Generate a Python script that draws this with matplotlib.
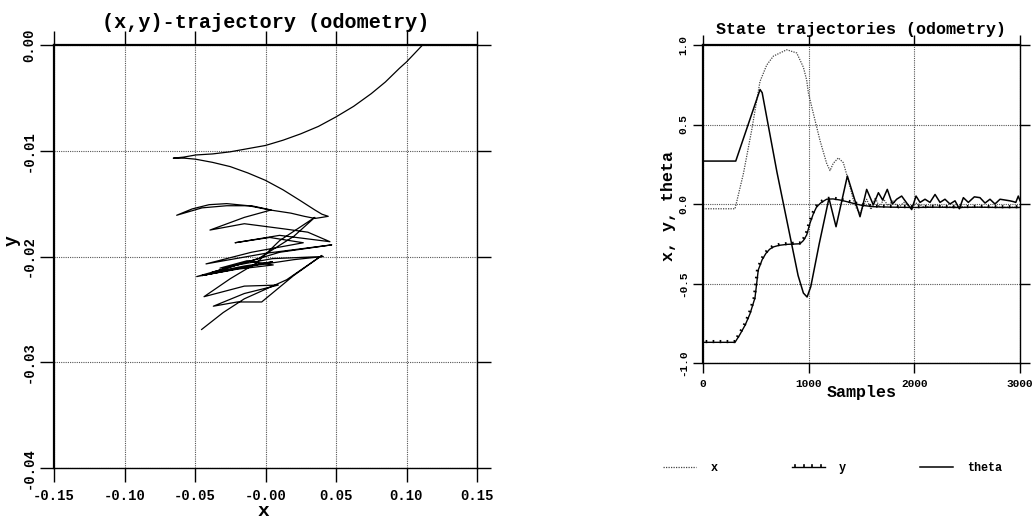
import matplotlib
matplotlib.use("Agg")
import matplotlib.pyplot as plt
from matplotlib import patheffects

plt.rcParams['font.family'] = ['Liberation Mono', 'DejaVu Sans Mono']
plt.rcParams['font.weight'] = 'bold'

# ---------------- data: (x,y) odometry trajectory ----------------
traj_x = [0.1114, 0.1050, 0.1000, 0.0950, 0.0850, 0.0750, 0.0625, 0.0500, 0.0375, 0.0250,
          0.0125, 0.0000, -0.0125, -0.0250, -0.0375, -0.0495, -0.0580, -0.0654,
          -0.0575, -0.0495, -0.0375, -0.0250, -0.0125, 0.0000, 0.0125, 0.0245, 0.0350,
          0.0400, 0.0445,
          0.0400, 0.0351, 0.0275, 0.0180, 0.0032, -0.0120, -0.0275, -0.0400, -0.0520, -0.0630,
          -0.0450, -0.0275, -0.0100, 0.0040,
          -0.0150, -0.0394,
          -0.0150, 0.0138,
          0.0300, 0.0457,
          0.0100, -0.0216,
          0.0030, 0.0268,
          -0.0100, -0.0422,
          0.0000, 0.0470,
          0.0100, -0.0250, -0.0488,
          -0.0100, 0.0200, 0.0410,
          0.0050, -0.0323,
          -0.0130, 0.0055,
          -0.0200, -0.0450,
          -0.0150, 0.0050,
          -0.0150, -0.0380,
          -0.0050, 0.0200, 0.0350,
          0.0100, -0.0062,
          -0.0250, -0.0436,
          -0.0150, 0.0091,
          -0.0150, -0.0370,
          -0.0200, -0.0027,
          0.0200, 0.0400,
          0.0150, -0.0150, -0.0300, -0.0453]
traj_y = [0.0000, -0.0009, -0.0016, -0.0022, -0.0035, -0.0046, -0.0058, -0.0068, -0.0077, -0.0084,
          -0.0090, -0.0095, -0.0098, -0.0101, -0.0103, -0.0104, -0.0106, -0.0107,
          -0.0107, -0.0108, -0.0111, -0.0115, -0.0121, -0.0128, -0.0137, -0.0147, -0.0156,
          -0.0160, -0.0162,
          -0.0163, -0.0164, -0.0162, -0.0159, -0.0156, -0.0152, -0.0150, -0.0151, -0.0155, -0.0161,
          -0.0154, -0.0152, -0.0152, -0.0156,
          -0.0163, -0.0175,
          -0.0169, -0.0174,
          -0.0177, -0.0186,
          -0.0180, -0.0187,
          -0.0182, -0.0187,
          -0.0196, -0.0207,
          -0.0197, -0.0189,
          -0.0196, -0.0210, -0.0219,
          -0.0209, -0.0203, -0.0200,
          -0.0202, -0.0211,
          -0.0204, -0.0208,
          -0.0212, -0.0218,
          -0.0210, -0.0205,
          -0.0209, -0.0215,
          -0.0202, -0.0181, -0.0163,
          -0.0185, -0.0206,
          -0.0221, -0.0238,
          -0.0228, -0.0227,
          -0.0235, -0.0247,
          -0.0243, -0.0243,
          -0.0218, -0.0199,
          -0.0222, -0.0240, -0.0253, -0.0269]

x_ticks = [-0.15, -0.10, -0.05, 0.00, 0.05, 0.10, 0.15]
x_ticklabels = ["-0.15", "-0.10", "-0.05", "-0.00", "0.05", "0.10", "0.15"]
y_ticks = [-0.04, -0.03, -0.02, -0.01, 0.00]
y_ticklabels = ["-0.04", "-0.03", "-0.02", "-0.01", "0.00"]

# ---------------- data: state trajectories ----------------
x_samples = [0, 303, 382, 461, 539, 603, 666, 792, 887, 950, 981, 997, 1044, 1107, 1170,
             1202, 1233, 1281, 1328, 1375, 1423, 1454, 1486, 1520, 1549, 1590, 1630, 1670,
             1710, 1750, 1800, 1850, 1900, 1960, 2020, 2100, 2200, 2300, 2400, 2500, 2700,
             2900, 3000]
x_state = [-0.03, -0.03, 0.19, 0.465, 0.77, 0.874, 0.93, 0.97, 0.95, 0.86, 0.78, 0.70,
           0.57, 0.40, 0.256, 0.21, 0.256, 0.29, 0.26, 0.15, 0.025, -0.03, -0.06, -0.01,
           0.03, -0.035, 0.04, -0.02, 0.03, -0.01, 0.02, -0.025, 0.01, -0.02, 0.005, -0.02,
           -0.005, -0.02, -0.015, -0.02, -0.02, -0.02, -0.02]

y_samples = [0, 303, 350, 400, 445, 492, 523, 560, 596, 630, 665, 720, 792, 860, 918,
             950, 981, 1013, 1045, 1076, 1120, 1170, 1230, 1297, 1360, 1423, 1500, 1612,
             1800, 2000, 2200, 2400, 2600, 2800, 3000]
y_state = [-0.87, -0.87, -0.82, -0.76, -0.69, -0.59, -0.415, -0.35, -0.31, -0.285, -0.27,
           -0.26, -0.254, -0.252, -0.25, -0.23, -0.195, -0.12, -0.06, -0.017, 0.01, 0.03,
           0.032, 0.025, 0.015, 0.004, -0.008, -0.017, -0.02, -0.022, -0.02, -0.022, -0.02,
           -0.022, -0.022]

theta_samples = [0, 310, 540, 560, 700, 900, 950, 985, 1020, 1100, 1192, 1259, 1366, 1486,
                 1549, 1612, 1660, 1700, 1744, 1792, 1833, 1880, 1928, 1975, 2016, 2054,
                 2101, 2148, 2196, 2243, 2290, 2337, 2385, 2426, 2464, 2511, 2568, 2621,
                 2669, 2716, 2763, 2811, 2858, 2905, 2937, 2960, 2984, 3000]
theta_state = [0.27, 0.27, 0.72, 0.70, 0.20, -0.45, -0.56, -0.585, -0.52, -0.25, 0.036,
               -0.143, 0.176, -0.08, 0.092, -0.006, 0.071, 0.025, 0.092, 0.0, 0.03, 0.05,
               0.006, -0.035, 0.05, 0.01, 0.03, 0.01, 0.06, 0.01, 0.03, 0.0, 0.02, -0.03,
               0.04, 0.01, 0.045, 0.04, 0.006, 0.03, 0.0, 0.03, 0.025, 0.02, 0.015, 0.01,
               0.05, 0.02]

s_xticks = [0, 1000, 2000, 3000]
s_xticklabels = ["0", "1000", "2000", "3000"]
s_yticks = [-1.0, -0.5, 0.0, 0.5, 1.0]
s_yticklabels = ["-1.0", "-0.5", "0.0", "0.5", "1.0"]

# ---------------- figure ----------------
W, H = 1033, 518
fig = plt.figure(figsize=(W / 100, H / 100), dpi=100)


def frac(l, t, r, b):
    return [l / W, 1 - b / H, (r - l) / W, (b - t) / H]


def style_axes(ax, ticklen, labsize, pad_x, pad_y):
    for side in ['left', 'top']:
        ax.spines[side].set_linewidth(1.6)
    for side in ['right', 'bottom']:
        ax.spines[side].set_linewidth(1.0)
    for sp in ax.spines.values():
        sp.set_color('black')
    ax.tick_params(axis='both', direction='out', length=ticklen, width=1.0,
                   top=True, right=True, labelsize=labsize, colors='black')
    ax.tick_params(axis='x', pad=pad_x)
    ax.tick_params(axis='y', pad=pad_y, labelrotation=90)
    for lab in ax.get_yticklabels():
        lab.set_verticalalignment('center')
    ax.grid(True, linestyle=(0, (1, 1)), color='#555555', linewidth=0.8)


# ---- left: (x,y) trajectory ----
ax1 = fig.add_axes(frac(54, 45, 477, 468))
ax1.plot(traj_x, traj_y, color='black', linewidth=0.9)
ax1.set_xlim(-0.15, 0.15)
ax1.set_ylim(-0.04, 0.0)
ax1.set_xticks(x_ticks)
ax1.set_xticklabels(x_ticklabels)
ax1.set_yticks(y_ticks)
ax1.set_yticklabels(y_ticklabels)
style_axes(ax1, 10, 10, 5, 3)
ax1.set_title("(x,y)-trajectory (odometry)", fontsize=14.5, fontweight='bold', pad=12)
ax1.set_xlabel("x", fontsize=14, fontweight='bold')
ax1.xaxis.set_label_coords((263 - 54) / 423, -(511 - 468) / 423)
ax1.xaxis.label.set_verticalalignment('center')
ax1.set_ylabel("y", fontsize=13, fontweight='bold')
ax1.yaxis.set_label_coords((12 - 54) / 423, (468 - 241) / 423)
ax1.yaxis.label.set_verticalalignment('center')

# ---- right: state trajectories ----
ax2 = fig.add_axes(frac(703, 45, 1020, 363))
lx, = ax2.plot(x_samples, x_state, color='#444444', linestyle=(0, (1, 1)),
               linewidth=0.9, label='x')
ly, = ax2.plot(y_samples, y_state, color='black', linewidth=1.0, label='y',
               path_effects=[patheffects.withTickedStroke(spacing=5.0, angle=90,
                                                          length=0.22, linewidth=1.2)])
lt, = ax2.plot(theta_samples, theta_state, color='black', linewidth=1.1, label='theta')
ax2.set_xlim(0, 3000)
ax2.set_ylim(-1.0, 1.0)
ax2.set_xticks(s_xticks)
ax2.set_xticklabels(s_xticklabels)
ax2.set_yticks(s_yticks)
ax2.set_yticklabels(s_yticklabels)
style_axes(ax2, 7.5, 8, 4, 3)
ax2.set_title("State trajectories (odometry)", fontsize=12, fontweight='bold', pad=8)
ax2.set_xlabel("Samples", fontsize=12, fontweight='bold', labelpad=-3)
ax2.set_ylabel("x, y, theta", fontsize=12, fontweight='bold')
ax2.yaxis.set_label_coords((669 - 703) / 317, (363 - 206) / 318)
ax2.yaxis.label.set_verticalalignment('center')

fig.legend(handles=[lx, ly, lt], loc='center left',
           bbox_to_anchor=(663 / W, 1 - 468 / H), ncol=3, frameon=False,
           fontsize=8.5, handlelength=2.8, handletextpad=1.2, columnspacing=6.3,
           borderpad=0, borderaxespad=0)

fig.savefig("out.png", dpi=100)
